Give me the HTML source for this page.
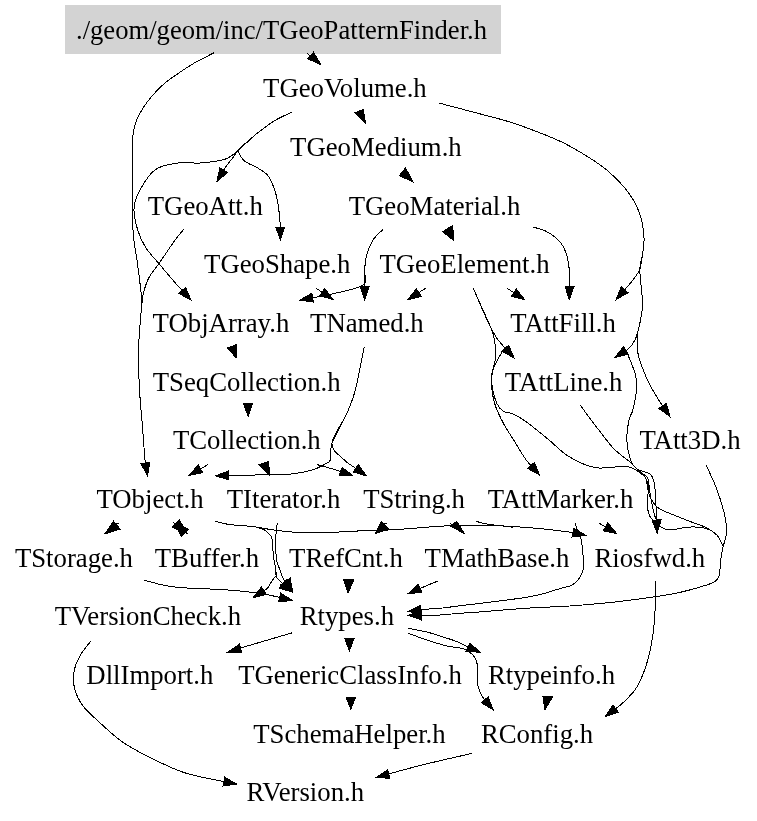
<!DOCTYPE html><html><head><meta charset="utf-8"><style>html,body{margin:0;padding:0;background:#fff;overflow:hidden}svg{display:block;will-change:transform}</style></head><body>
<svg width="757" height="821" viewBox="0 0 757 821">
<rect x="0" y="0" width="757" height="821" fill="#fff"/>
<rect x="65" y="5" width="436" height="49" fill="#d3d3d3"/>
<g font-family="Liberation Serif" font-size="26.75" text-anchor="middle" fill="#000">
<text x="281.5" y="39.0" textLength="411" lengthAdjust="spacingAndGlyphs">./geom/geom/inc/TGeoPatternFinder.h</text>
<text x="344.90" y="97.0">TGeoVolume.h</text>
<text x="375.90" y="156.0">TGeoMedium.h</text>
<text x="205.30" y="215.0">TGeoAtt.h</text>
<text x="434.50" y="215.0">TGeoMaterial.h</text>
<text x="277.25" y="273.0">TGeoShape.h</text>
<text x="464.50" y="273.0">TGeoElement.h</text>
<text x="220.95" y="332.0">TObjArray.h</text>
<text x="366.90" y="332.0">TNamed.h</text>
<text x="563.00" y="332.0">TAttFill.h</text>
<text x="246.70" y="391.0">TSeqCollection.h</text>
<text x="563.60" y="391.0">TAttLine.h</text>
<text x="246.80" y="449.0">TCollection.h</text>
<text x="689.95" y="449.0">TAtt3D.h</text>
<text x="150.05" y="508.0">TObject.h</text>
<text x="283.60" y="508.0">TIterator.h</text>
<text x="414.05" y="508.0">TString.h</text>
<text x="560.50" y="508.0">TAttMarker.h</text>
<text x="73.95" y="567.0">TStorage.h</text>
<text x="206.90" y="567.0">TBuffer.h</text>
<text x="345.95" y="567.0">TRefCnt.h</text>
<text x="497.00" y="567.0">TMathBase.h</text>
<text x="649.85" y="567.0">Riosfwd.h</text>
<text x="147.90" y="625.0">TVersionCheck.h</text>
<text x="346.90" y="625.0">Rtypes.h</text>
<text x="149.85" y="684.0">DllImport.h</text>
<text x="350.00" y="684.0">TGenericClassInfo.h</text>
<text x="551.50" y="684.0">Rtypeinfo.h</text>
<text x="349.45" y="743.0">TSchemaHelper.h</text>
<text x="537.05" y="743.0">RConfig.h</text>
<text x="305.35" y="801.0">RVersion.h</text>
</g>
<g fill="none" stroke="#000" stroke-width="1" shape-rendering="crispEdges">
<path d="M307.5,53.5 L311,57"/>
<path d="M291.6,112.3C288.9,113.6 281.0,116.9 275.3,120.3C269.6,123.7 262.3,129.3 257.7,132.9C253.1,136.5 250.8,138.9 247.7,141.7C244.6,144.5 241.4,147.0 238.9,149.7C236.4,152.4 234.9,154.9 232.6,158.0C230.3,161.1 227.6,164.1 225.0,168.0C222.4,171.9 218.3,179.1 217.0,181.3"/>
<path d="M291.6,112.3C288.9,113.6 281.0,116.9 275.3,120.3C269.6,123.7 262.3,129.3 257.7,132.9C253.1,136.5 250.8,138.9 247.7,141.7C244.6,144.5 239.5,146.6 238.9,149.7C238.3,152.8 240.9,157.4 244.0,160.5C247.1,163.6 253.7,165.5 257.7,168.0C261.7,170.5 265.1,172.2 267.8,175.5C270.5,178.8 272.3,183.4 274.0,188.0C275.7,192.6 276.8,196.7 277.8,203.0C278.9,209.3 279.9,219.5 280.3,225.7C280.7,231.9 280.4,237.6 280.4,240.0"/>
<path d="M291.6,112.3C288.9,113.6 281.0,116.9 275.3,120.3C269.6,123.7 262.3,129.3 257.7,132.9C253.1,136.5 250.8,138.9 247.7,141.7C244.6,144.5 242.7,146.8 238.9,149.7C235.1,152.6 231.5,157.0 225.0,159.2C218.5,161.4 207.7,162.4 200.0,163.0C192.3,163.6 186.4,161.8 179.0,162.9C171.6,164.0 162.1,164.9 155.5,169.5C148.9,174.1 143.2,184.0 139.6,190.6C136.0,197.2 134.3,202.4 134.0,209.0C133.7,215.6 135.8,223.6 137.7,230.0C139.6,236.4 142.2,241.9 145.7,247.5C149.2,253.1 154.0,257.8 158.9,263.6C163.8,269.5 169.7,276.5 175.0,282.6C180.3,288.7 188.3,297.1 191.0,300.0"/>
<path d="M213.8,52.9C210.5,54.6 200.2,59.6 194.0,63.2C187.8,66.8 181.7,71.1 176.8,74.4C172.0,77.7 168.9,79.6 164.9,83.0C160.9,86.4 156.5,90.9 153.0,94.9C149.5,98.9 146.4,102.8 143.8,106.8C141.2,110.8 138.8,115.0 137.2,118.7C135.5,122.5 134.7,125.3 133.9,129.3C133.1,133.3 132.7,135.4 132.5,142.5C132.3,149.6 132.4,157.4 132.5,172.0C132.6,186.6 132.3,215.5 133.0,230.0C133.7,244.5 135.6,249.4 136.9,259.2C138.2,268.9 139.8,281.2 140.6,288.5C141.4,295.8 142.0,298.2 142.0,303.1C142.0,308.0 141.2,309.9 140.6,317.7C140.0,325.5 138.8,338.0 138.6,350.0C138.4,362.0 138.8,376.4 139.5,389.6C140.2,402.8 141.8,417.3 142.7,429.2C143.6,441.1 144.3,453.0 145.1,460.8C145.9,468.6 147.1,473.4 147.5,475.9"/>
<path d="M184.0,229.0C182.5,230.9 179.2,234.4 175.0,240.2C170.8,246.0 163.3,257.3 158.9,263.6C154.5,269.9 151.2,273.3 148.6,278.2C146.0,283.1 144.6,288.8 143.5,292.9C142.4,297.0 142.2,301.4 142.0,303.1"/>
<path d="M438.8,103.0C444.0,104.4 458.7,108.2 470.2,111.3C481.7,114.4 497.4,118.2 507.9,121.4C518.4,124.6 524.2,126.8 533.0,130.2C541.8,133.5 551.6,137.2 560.6,141.5C569.6,145.8 579.1,151.3 587.1,156.3C595.1,161.3 601.5,165.3 608.4,171.4C615.3,177.5 623.3,185.6 628.5,192.7C633.7,199.8 637.2,206.5 639.8,214.0C642.4,221.5 643.6,231.0 644.0,237.9C644.4,244.8 643.0,250.3 642.3,255.5C641.6,260.7 641.3,265.3 639.8,269.3C638.3,273.3 635.6,276.4 633.5,279.3C631.4,282.2 630.1,283.4 627.2,286.8C624.3,290.2 618.0,297.5 616.1,299.6"/>
<path d="M438.8,103.0C444.0,104.4 458.7,108.2 470.2,111.3C481.7,114.4 497.4,118.2 507.9,121.4C518.4,124.6 524.2,126.8 533.0,130.2C541.8,133.5 551.6,137.2 560.6,141.5C569.6,145.8 579.1,151.3 587.1,156.3C595.1,161.3 601.5,165.3 608.4,171.4C615.3,177.5 623.3,185.6 628.5,192.7C633.7,199.8 637.2,206.5 639.8,214.0C642.4,221.5 643.6,231.0 644.0,237.9C644.4,244.8 643.0,250.3 642.3,255.5C641.6,260.7 639.8,262.7 639.8,269.3C639.8,275.9 641.6,288.7 642.0,295.1C642.4,301.5 642.8,302.6 642.4,307.6C642.0,312.6 640.7,319.6 639.5,325.0C638.3,330.4 636.9,336.0 635.0,340.0C633.1,344.0 631.3,346.1 628.0,349.0C624.7,351.9 617.2,356.2 615.0,357.6"/>
<path d="M438.8,103.0C444.0,104.4 458.7,108.2 470.2,111.3C481.7,114.4 497.4,118.2 507.9,121.4C518.4,124.6 524.2,126.8 533.0,130.2C541.8,133.5 551.6,137.2 560.6,141.5C569.6,145.8 579.1,151.3 587.1,156.3C595.1,161.3 601.5,165.3 608.4,171.4C615.3,177.5 623.3,185.6 628.5,192.7C633.7,199.8 637.2,206.5 639.8,214.0C642.4,221.5 643.6,231.0 644.0,237.9C644.4,244.8 643.0,250.3 642.3,255.5C641.6,260.7 639.8,262.7 639.8,269.3C639.8,275.9 641.6,288.7 642.0,295.1C642.4,301.5 642.8,302.6 642.4,307.6C642.0,312.6 640.2,320.9 639.5,325.0C638.8,329.1 638.3,328.6 637.9,332.0C637.5,335.4 637.0,341.5 637.1,345.5C637.2,349.5 637.7,352.6 638.5,356.2C639.3,359.8 640.5,362.8 642.1,366.9C643.7,371.0 645.8,376.6 648.0,381.1C650.2,385.7 653.0,390.4 655.2,394.2C657.4,398.0 658.6,400.0 661.1,403.7C663.6,407.4 668.5,414.5 670.0,416.6"/>
<path d="M533.2,227.1C535.2,227.7 541.4,229.1 545.2,230.9C549.0,232.7 553.3,235.5 556.2,238.0C559.1,240.5 560.9,242.6 562.7,245.7C564.5,248.8 566.0,252.6 567.1,256.6C568.2,260.6 568.9,265.1 569.3,269.8C569.7,274.6 569.5,280.2 569.5,285.1C569.5,290.0 569.3,297.0 569.3,299.4"/>
<path d="M506.9,288.2L524.7,299.7"/>
<path d="M473.2,287.8C475.2,292.4 481.4,307.3 485.0,315.2C488.6,323.1 492.1,330.3 495.0,335.3C497.9,340.3 499.4,341.5 502.6,345.3C505.8,349.1 512.1,355.8 514.0,357.9"/>
<path d="M382.9,229.5C381.2,231.3 375.6,235.8 372.9,240.1C370.2,244.4 368.0,250.1 366.6,255.1C365.2,260.1 364.9,265.2 364.6,270.2C364.3,275.2 364.6,280.4 364.6,285.3C364.6,290.2 364.6,297.2 364.6,299.6"/>
<path d="M382.9,229.5C381.2,231.3 375.6,235.8 372.9,240.1C370.2,244.4 368.0,250.1 366.6,255.1C365.2,260.1 365.2,265.2 364.6,270.2C364.0,275.2 368.6,281.0 363.0,285.0C357.4,289.0 341.5,291.7 331.0,294.2C320.5,296.7 305.1,299.1 299.9,300.1"/>
<path d="M315.8,288.0L332.9,299.4"/>
<path d="M425.7,288.2L407.8,299.7"/>
<path d="M364.1,347.2C363.4,350.9 361.3,361.9 359.7,369.6C358.1,377.3 356.6,385.9 354.4,393.4C352.2,400.9 350.1,406.1 346.4,414.5C342.6,422.9 334.5,436.1 331.9,443.6C329.3,451.1 331.9,456.0 330.6,459.5C329.3,463.0 327.1,462.9 324.0,464.7C320.9,466.4 317.6,468.4 312.1,470.0C306.6,471.6 298.1,473.2 291.0,474.0C283.9,474.8 279.5,474.6 269.8,474.8C260.1,475.0 241.8,475.1 232.8,475.3C223.8,475.5 218.5,475.7 215.7,475.8"/>
<path d="M364.1,347.2C363.4,350.9 361.3,361.9 359.7,369.6C358.1,377.3 356.6,385.9 354.4,393.4C352.2,400.9 350.1,406.1 346.4,414.5C342.6,422.9 332.3,436.1 331.9,443.6C331.5,451.1 340.1,455.5 343.8,459.5C347.6,463.5 350.6,464.7 354.4,467.4C358.1,470.1 364.3,474.4 366.3,475.8"/>
<path d="M207.7,464.7L189.2,475.3"/>
<path d="M317.4,464.7C320.5,465.6 330.0,468.1 335.9,470.0C341.8,471.9 350.1,474.8 353.0,475.8"/>
<path d="M113.5,523 L119.4,523.2"/>
<path d="M215.3,521.3C217.6,521.8 224.4,523.8 229.1,524.5C233.8,525.2 239.0,525.3 243.6,525.7C248.2,526.1 251.4,526.3 256.7,527.1C262.0,527.9 268.6,529.4 275.6,530.3C282.6,531.2 289.7,532.1 298.8,532.5C307.9,532.9 319.8,532.7 330.0,532.4C340.2,532.1 352.4,531.2 360.0,530.9C367.6,530.6 368.5,530.9 375.9,530.6C383.3,530.3 394.6,529.7 404.4,529.0C414.2,528.3 426.1,527.2 434.5,526.6C442.9,526.0 446.5,525.7 455.1,525.5C463.8,525.3 476.8,525.0 486.4,525.2C496.0,525.4 504.0,526.0 512.8,526.5C521.6,527.0 531.8,527.8 539.3,528.5C546.8,529.2 552.1,529.9 557.8,530.6C563.5,531.3 568.6,531.8 573.3,532.6C578.0,533.4 583.7,534.8 585.8,535.3"/>
<path d="M475.9,521.2C477.6,521.7 480.2,522.9 486.4,523.9C492.5,524.9 508.4,526.7 512.8,527.2"/>
<path d="M256.7,527.1C257.9,527.5 262.0,528.6 263.9,529.6C265.8,530.6 266.9,531.6 268.3,533.2C269.7,534.8 271.4,535.5 272.2,539.1C273.0,542.7 272.7,550.0 273.3,555.0C273.9,560.0 275.2,565.8 275.7,569.3C276.2,572.8 275.7,574.4 276.1,576.0C276.5,577.6 277.1,577.8 278.0,578.8C278.9,579.8 278.8,579.8 281.2,582.0C283.6,584.2 290.8,590.5 292.7,592.2"/>
<path d="M256.7,527.1C257.9,527.5 262.0,528.6 263.9,529.6C265.8,530.6 266.9,531.6 268.3,533.2C269.7,534.8 271.4,535.5 272.2,539.1C273.0,542.7 272.7,550.0 273.3,555.0C273.9,560.0 275.2,565.8 275.7,569.3C276.2,572.8 276.4,574.5 276.1,576.0C275.8,577.5 275.0,576.7 274.0,578.0C273.0,579.3 271.2,582.2 270.0,584.0C268.8,585.8 269.3,586.7 266.5,589.0C263.7,591.3 255.3,596.3 253.1,597.8"/>
<path d="M277.3,523.1C277.0,525.8 275.8,533.8 275.6,539.1C275.4,544.4 275.8,551.0 276.1,555.0C276.4,559.0 276.5,560.3 277.2,562.9C277.9,565.5 279.5,568.3 280.4,570.8C281.3,573.3 280.8,574.4 282.8,578.0C284.9,581.6 291.1,589.8 292.7,592.2"/>
<path d="M143.9,580.1C147.1,580.9 157.2,583.9 163.0,585.1C168.8,586.3 173.0,586.9 178.9,587.5C184.8,588.1 191.5,588.1 198.7,588.5C205.8,588.9 214.3,589.1 221.8,589.6C229.3,590.1 236.3,590.6 243.6,591.4C250.9,592.2 257.3,592.8 265.4,594.3C273.5,595.8 287.8,599.4 292.3,600.4"/>
<path d="M382,523 L387,523.5"/>
<path d="M449.6,523.5 L455,526"/>
<path d="M437.8,581.1C435.2,582.1 427.4,585.3 422.5,587.4C417.6,589.5 410.6,592.5 408.2,593.5"/>
<path d="M599.5,523.4L616.7,533.5"/>
<path d="M575.1,523.1C575.6,524.5 577.1,529.1 578.0,531.2C578.9,533.3 579.7,533.3 580.4,535.9C581.1,538.5 581.7,541.3 582.2,546.6C582.7,551.9 584.0,562.7 583.5,567.9C583.0,573.1 581.3,575.0 579.5,577.8C577.7,580.6 575.9,583.0 572.6,584.8C569.3,586.6 566.8,586.7 559.7,588.7C552.6,590.7 544.1,594.2 530.0,596.7C515.9,599.2 486.9,602.5 475.0,604.0C463.1,605.5 463.8,605.2 458.4,605.9C453.0,606.6 448.7,607.4 442.6,608.0C436.5,608.6 427.6,609.0 421.9,609.6C416.2,610.2 410.5,611.1 408.2,611.4"/>
<path d="M723.2,546.2C722.8,548.6 721.2,555.9 720.6,560.8C720.0,565.6 720.2,571.9 719.3,575.3C718.4,578.7 717.5,579.6 715.3,581.2C713.1,582.9 712.0,583.3 706.1,585.2C700.2,587.1 688.1,590.6 679.6,592.5C671.1,594.4 666.9,595.0 655.2,596.7C643.5,598.4 623.6,601.1 609.3,602.6C595.0,604.1 582.8,605.1 569.6,606.0C556.4,606.9 545.8,607.0 530.0,608.0C514.2,609.0 486.9,611.4 475.0,612.3C463.1,613.2 463.8,612.9 458.4,613.3C453.0,613.7 448.7,614.5 442.6,614.9C436.5,615.2 427.6,615.3 421.9,615.4C416.2,615.5 410.5,615.4 408.2,615.4"/>
<path d="M705.9,464.6C707.7,468.7 713.6,480.5 716.8,489.2C720.0,497.9 723.4,509.3 725.0,516.6C726.6,523.9 726.7,528.1 726.4,533.0C726.1,537.9 723.7,544.0 723.2,546.2"/>
<path d="M473.2,288.0C474.6,291.3 478.7,300.6 481.9,307.8C485.1,315.0 489.9,324.4 492.2,331.2C494.5,338.0 495.3,343.8 495.8,348.7C496.3,353.6 495.6,356.8 495.1,360.4C494.6,364.0 493.5,367.0 492.9,370.6C492.3,374.2 491.1,376.8 491.4,382.3C491.7,387.8 492.6,396.8 494.7,403.7C496.8,410.6 500.3,417.5 503.7,423.9C507.1,430.3 511.2,435.9 514.9,441.9C518.6,447.9 522.0,454.3 526.1,459.8C530.2,465.3 537.4,472.6 539.6,475.1"/>
<path d="M473.2,288.0C474.6,291.3 478.7,300.6 481.9,307.8C485.1,315.0 489.9,324.4 492.2,331.2C494.5,338.0 495.3,343.8 495.8,348.7C496.3,353.6 495.6,356.8 495.1,360.4C494.6,364.0 493.5,367.0 492.9,370.6C492.3,374.2 490.7,376.8 491.4,382.3C492.1,387.8 494.9,398.8 497.0,403.7C499.1,408.6 501.1,409.8 503.7,411.5C506.3,413.2 509.0,412.1 512.7,413.8C516.4,415.5 520.1,417.4 526.1,421.7C532.1,426.0 541.5,433.8 548.6,439.6C555.7,445.4 560.9,451.8 568.8,456.5C576.7,461.2 586.1,466.0 595.8,467.7C605.5,469.4 619.2,465.3 627.2,466.6C635.2,467.9 640.0,472.5 643.5,475.6C647.0,478.8 647.8,481.6 648.5,485.5C649.2,489.4 647.5,494.7 647.5,499.3C647.5,503.9 647.5,509.6 648.5,513.2C649.5,516.8 651.3,518.8 653.4,521.1C655.5,523.4 658.6,525.6 661.3,527.1C663.9,528.6 664.7,530.0 669.3,530.0C673.9,530.0 683.2,527.4 689.1,527.1C695.0,526.8 700.3,526.8 704.9,528.1C709.5,529.4 713.8,532.0 716.8,535.0C719.8,538.0 722.1,544.3 723.2,546.2"/>
<path d="M502.4,351.6C501.7,352.8 499.5,356.3 498.0,359.0C496.5,361.7 494.7,365.0 493.6,367.7C492.5,370.4 491.8,373.8 491.4,375.0"/>
<path d="M580.0,404.8C582.6,408.4 590.2,418.8 595.8,426.1C601.4,433.4 608.1,442.7 613.7,448.6C619.3,454.5 625.6,458.2 629.6,461.7C633.6,465.2 635.0,467.0 637.6,469.6C640.2,472.2 643.5,473.3 645.5,477.6C647.5,481.9 647.4,490.4 649.4,495.4C651.4,500.3 654.1,504.3 657.4,507.3C660.7,510.3 664.0,510.9 669.3,513.2C674.6,515.5 683.2,518.8 689.1,521.1C695.0,523.4 700.3,524.8 704.9,527.1C709.5,529.4 713.8,531.8 716.8,535.0C719.8,538.2 722.1,544.3 723.2,546.2"/>
<path d="M624.0,351.0C624.5,351.5 626.0,351.8 627.2,353.8C628.4,355.9 630.0,359.7 631.4,363.3C632.8,366.9 634.7,371.4 635.6,375.2C636.5,379.0 636.8,382.3 636.8,385.9C636.8,389.5 636.3,392.4 635.6,396.6C634.9,400.8 633.7,407.0 632.6,410.9C631.5,414.8 630.0,415.0 629.0,420.0C628.0,425.0 626.6,434.0 626.9,440.7C627.2,447.4 628.9,455.3 630.6,460.0C632.3,464.7 633.9,466.7 637.0,469.0C640.1,471.3 646.7,471.9 649.4,473.6C652.1,475.4 652.4,476.2 653.4,479.5C654.4,482.8 654.8,484.5 655.4,493.4C656.0,502.3 656.9,526.4 657.2,533.0"/>
<path d="M640.0,472.0C641.2,473.0 645.9,475.1 647.5,478.0C649.1,480.9 648.8,485.5 649.4,489.4C650.0,493.3 650.5,497.0 651.4,501.3C652.2,505.6 653.5,511.6 654.5,515.0C655.5,518.5 656.8,520.8 657.2,522.0"/>
<path d="M655.2,580.8C655.2,585.3 655.6,598.5 655.2,607.6C654.8,616.7 654.2,626.1 652.8,635.3C651.4,644.5 649.5,654.4 646.9,663.0C644.3,671.6 640.6,680.5 637.0,686.8C633.4,693.1 628.4,697.2 625.1,700.7C621.8,704.2 620.5,705.0 617.2,707.6C613.9,710.2 607.3,715.0 605.3,716.5"/>
<path d="M291.9,632.9L240.5,648.0"/>
<path d="M407.9,628.2C411.0,628.8 421.1,630.6 426.4,631.9C431.7,633.2 434.8,634.4 439.6,635.9C444.5,637.4 451.1,639.4 455.5,641.1C459.9,642.8 461.9,644.1 466.0,646.0C470.1,647.9 477.6,651.3 479.9,652.4"/>
<path d="M407.9,633.2C411.0,634.3 420.0,637.7 426.4,639.8C432.8,641.9 440.2,644.4 446.2,645.8C452.1,647.2 458.4,647.4 462.1,648.4C465.9,649.4 466.6,650.3 468.7,651.7C470.8,653.1 473.2,654.8 474.6,657.0C476.0,659.2 476.9,660.7 477.3,664.9C477.8,669.1 477.0,677.9 477.3,682.1C477.6,686.3 478.3,687.4 479.3,690.0C480.3,692.6 480.9,694.6 483.2,697.9C485.5,701.2 491.5,707.8 493.1,709.8"/>
<path d="M472.4,753.3C464.1,755.2 438.5,760.9 422.5,764.9C406.5,768.9 383.9,775.3 376.2,777.4"/>
<path d="M91.3,640.5C89.4,643.1 82.6,650.9 79.7,656.3C76.8,661.7 74.6,667.3 73.8,672.8C73.0,678.3 73.3,683.9 74.8,689.4C76.3,694.9 78.9,700.4 83.0,705.9C87.1,711.4 92.9,716.3 99.5,722.4C106.1,728.5 114.4,736.4 122.7,742.2C131.0,748.0 139.2,752.0 149.1,757.0C159.0,762.0 172.2,768.3 182.1,771.9C192.0,775.5 199.4,776.5 208.5,778.5C217.6,780.5 231.9,783.2 236.6,784.1"/>
</g><g fill="#000" stroke="#000" stroke-width="1" shape-rendering="crispEdges">
<polygon points="320.9,64.6 307.7,58.7 313.5,52.2"/>
<polygon points="365.7,123.6 355.0,112.8 363.2,109.5"/>
<polygon points="217.0,181.3 219.8,167.8 227.6,172.5"/>
<polygon points="280.4,240.0 275.8,227.0 284.8,227.0"/>
<polygon points="191.0,300.0 178.9,293.5 185.5,287.4"/>
<polygon points="147.5,475.9 141.1,463.8 149.8,462.4"/>
<polygon points="616.1,299.6 621.2,286.8 628.0,292.7"/>
<polygon points="615.0,357.6 623.4,346.7 628.3,354.2"/>
<polygon points="670.0,416.6 658.9,408.5 666.3,403.3"/>
<polygon points="453.9,240.6 442.6,231.8 452.6,225.5"/>
<polygon points="569.3,299.4 565.0,286.3 574.0,286.5"/>
<polygon points="524.7,299.7 511.3,296.4 516.2,288.9"/>
<polygon points="514.0,357.9 501.9,351.3 508.6,345.2"/>
<polygon points="364.6,299.6 360.1,286.6 369.1,286.6"/>
<polygon points="299.9,300.1 311.8,293.3 313.5,302.1"/>
<polygon points="332.9,299.4 319.6,295.9 324.6,288.4"/>
<polygon points="407.8,299.7 416.3,288.9 421.2,296.5"/>
<polygon points="236.0,357.7 227.6,348.0 236.8,344.5"/>
<polygon points="248.2,416.7 243.4,403.4 252.7,403.4"/>
<polygon points="215.7,475.8 228.6,470.9 228.8,479.9"/>
<polygon points="366.3,475.8 353.1,472.0 358.3,464.6"/>
<polygon points="269.8,475.3 259.3,464.7 268.5,461.6"/>
<polygon points="189.2,475.3 198.2,464.9 202.7,472.7"/>
<polygon points="353.0,475.8 339.2,475.9 342.1,467.4"/>
<polygon points="104.9,533.8 113.5,521.2 120.1,529.2"/>
<polygon points="172.3,527.2 179.5,519.9 187.0,533.5"/>
<polygon points="181.5,536.4 188.8,529.2 174.0,523.0"/>
<polygon points="585.8,535.3 572.1,537.0 574.0,528.2"/>
<polygon points="292.7,592.2 279.0,588.1 287.0,579.1"/>
<polygon points="253.1,597.8 261.5,586.9 266.4,594.4"/>
<polygon points="292.7,592.2 280.3,585.0 290.2,578.1"/>
<polygon points="292.3,600.4 278.6,601.9 280.6,593.1"/>
<polygon points="348.1,592.9 343.6,579.8 353.7,579.8"/>
<polygon points="375.1,533.5 381.4,521.4 389.3,529.0"/>
<polygon points="464.6,533.8 456.7,521.4 450.4,525.9"/>
<polygon points="408.2,593.5 418.4,584.3 421.9,592.5"/>
<polygon points="616.7,533.5 603.2,530.8 607.8,523.0"/>
<polygon points="408.2,611.4 420.5,605.2 421.7,614.2"/>
<polygon points="408.2,615.4 421.2,610.9 421.2,619.9"/>
<polygon points="539.6,475.1 527.6,468.3 534.4,462.4"/>
<polygon points="657.2,533.0 652.1,520.2 661.1,519.8"/>
<polygon points="605.3,716.5 613.0,705.1 618.4,712.3"/>
<polygon points="226.9,652.7 239.6,644.0 241.7,652.7"/>
<polygon points="349.4,650.7 344.8,638.7 354.0,638.7"/>
<polygon points="350.8,709.4 346.2,697.8 355.4,697.8"/>
<polygon points="479.9,652.4 466.2,651.1 470.0,642.9"/>
<polygon points="493.1,709.8 481.3,702.7 488.2,696.9"/>
<polygon points="544.9,709.6 542.9,696.7 552.8,696.7"/>
<polygon points="376.2,777.4 387.6,769.7 389.9,778.4"/>
<polygon points="236.6,784.1 223.0,786.0 224.7,777.1"/>
<polygon points="412.7,181.7 399.3,175.6 405.6,167.9"/>
</g></svg></body></html>
